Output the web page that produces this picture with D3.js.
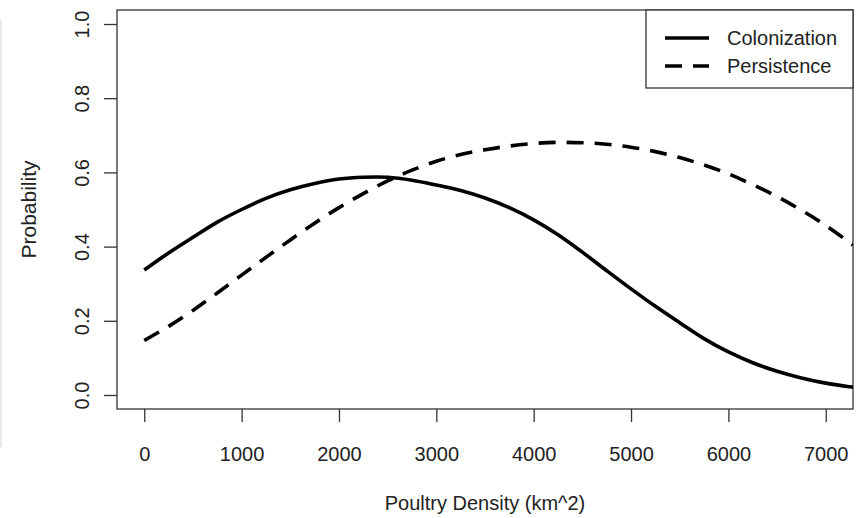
<!DOCTYPE html>
<html lang="en">
<head>
<meta charset="utf-8">
<title>Colonization vs Persistence</title>
<script src="https://d3js.org/d3.v7.min.js"></script>
<style>
  body { margin: 0; background: #fff; }
  text { font-family: "Liberation Sans", Arial, sans-serif; fill: #222; }
</style>
</head>
<body>
<div id="chart"></div>
<script>
// poultry density grid (km^2)
const density = [0, 250, 500, 750, 1000, 1250, 1500, 1750, 2000, 2250, 2500, 2750,
  3000, 3250, 3500, 3750, 4000, 4250, 4500, 4750, 5000, 5250, 5500, 5750,
  6000, 6250, 6500, 6750, 7000, 7250, 7280];
const colonization = [0.337, 0.383, 0.425, 0.466, 0.500, 0.530, 0.553, 0.570, 0.582, 0.587, 0.587, 0.579,
  0.566, 0.551, 0.531, 0.505, 0.472, 0.432, 0.385, 0.335, 0.286, 0.239, 0.195, 0.152,
  0.116, 0.087, 0.064, 0.046, 0.032, 0.022, 0.021];
const persistence = [0.147, 0.185, 0.228, 0.275, 0.323, 0.371, 0.418, 0.463, 0.505, 0.543, 0.577, 0.606,
  0.630, 0.648, 0.661, 0.671, 0.678, 0.681, 0.680, 0.676, 0.668, 0.656, 0.640, 0.620,
  0.596, 0.567, 0.535, 0.498, 0.457, 0.410, 0.404];
const xTicks = [0, 1000, 2000, 3000, 4000, 5000, 6000, 7000];
const yTicks = [0, 0.2, 0.4, 0.6, 0.8, 1.0];
const seriesNames = ["Colonization", "Persistence"];

const W = 860, H = 518;
const box = {left: 117, right: 853, top: 10, bottom: 409};

const svg = d3.select("#chart").append("svg")
  .attr("width", W).attr("height", H);

// faint frame line on the left edge
svg.append("line")
  .attr("x1", 1).attr("x2", 1).attr("y1", 20).attr("y2", 447)
  .attr("stroke", "#e2e2e2").attr("stroke-width", 1.5);

const x = d3.scaleLinear().domain([-280, 7280]).range([box.left, box.right]);
const y = d3.scaleLinear().domain([0, 1]).range([395, 24]);

svg.append("defs").append("clipPath").attr("id", "clip")
  .append("rect")
  .attr("x", box.left).attr("y", box.top)
  .attr("width", box.right - box.left).attr("height", box.bottom - box.top);

// x axis
const xAxis = svg.append("g")
  .attr("transform", `translate(0, ${box.bottom})`)
  .call(d3.axisBottom(x).tickValues(xTicks).tickSize(13).tickPadding(25).tickFormat(d3.format("d")));
xAxis.select(".domain").remove();
xAxis.selectAll(".tick line").attr("stroke", "#333").attr("stroke-width", 1.3);
xAxis.selectAll(".tick text").attr("font-size", 20).attr("fill", "#222")
  .style("font-family", "Liberation Sans, Arial, sans-serif");

// y axis
const yAxis = svg.append("g")
  .attr("transform", `translate(${box.left}, 0)`)
  .call(d3.axisLeft(y).tickValues(yTicks).tickSize(13).tickFormat(d3.format(".1f")));
yAxis.select(".domain").remove();
yAxis.selectAll(".tick line").attr("stroke", "#333").attr("stroke-width", 1.3);
yAxis.selectAll(".tick text")
  .attr("font-size", 20).attr("fill", "#222")
  .style("font-family", "Liberation Sans, Arial, sans-serif")
  .attr("text-anchor", "middle")
  .attr("dy", 0).attr("x", null)
  .attr("transform", "translate(-28, 0) rotate(-90)");

// plot box
svg.append("rect")
  .attr("x", box.left).attr("y", box.top)
  .attr("width", box.right - box.left).attr("height", box.bottom - box.top)
  .attr("fill", "none").attr("stroke", "#333").attr("stroke-width", 1.3);

// axis titles
svg.append("text")
  .attr("x", (box.left + box.right) / 2).attr("y", 510)
  .attr("text-anchor", "middle").attr("font-size", 20)
  .text("Poultry Density (km^2)");
svg.append("text")
  .attr("transform", `translate(36, ${(box.top + box.bottom) / 2}) rotate(-90)`)
  .attr("text-anchor", "middle").attr("font-size", 21)
  .text("Probability");

// curves
const line = d3.line()
  .x(d => x(d[0])).y(d => y(d[1]))
  .curve(d3.curveCatmullRom);

const styles = [null, "17,11"];
[colonization, persistence].forEach((vals, i) => {
  svg.append("path")
    .datum(density.map((d, j) => [d, vals[j]]))
    .attr("clip-path", "url(#clip)")
    .attr("fill", "none")
    .attr("stroke", "#000")
    .attr("stroke-width", 3.6)
    .attr("stroke-dasharray", styles[i])
    .attr("d", line);
});

// legend
const legend = svg.append("g");
legend.append("rect")
  .attr("x", 646).attr("y", box.top)
  .attr("width", box.right - 646).attr("height", 88 - box.top)
  .attr("fill", "#fff").attr("stroke", "#333").attr("stroke-width", 1.3);
seriesNames.forEach((name, i) => {
  const ly = 38 + i * 28;
  legend.append("line")
    .attr("x1", 665).attr("x2", 709).attr("y1", ly).attr("y2", ly)
    .attr("stroke", "#000").attr("stroke-width", 3.6)
    .attr("stroke-dasharray", styles[i]);
  legend.append("text")
    .attr("x", 727).attr("y", ly + 7)
    .attr("font-size", 20)
    .text(name);
});
</script>
</body>
</html>
